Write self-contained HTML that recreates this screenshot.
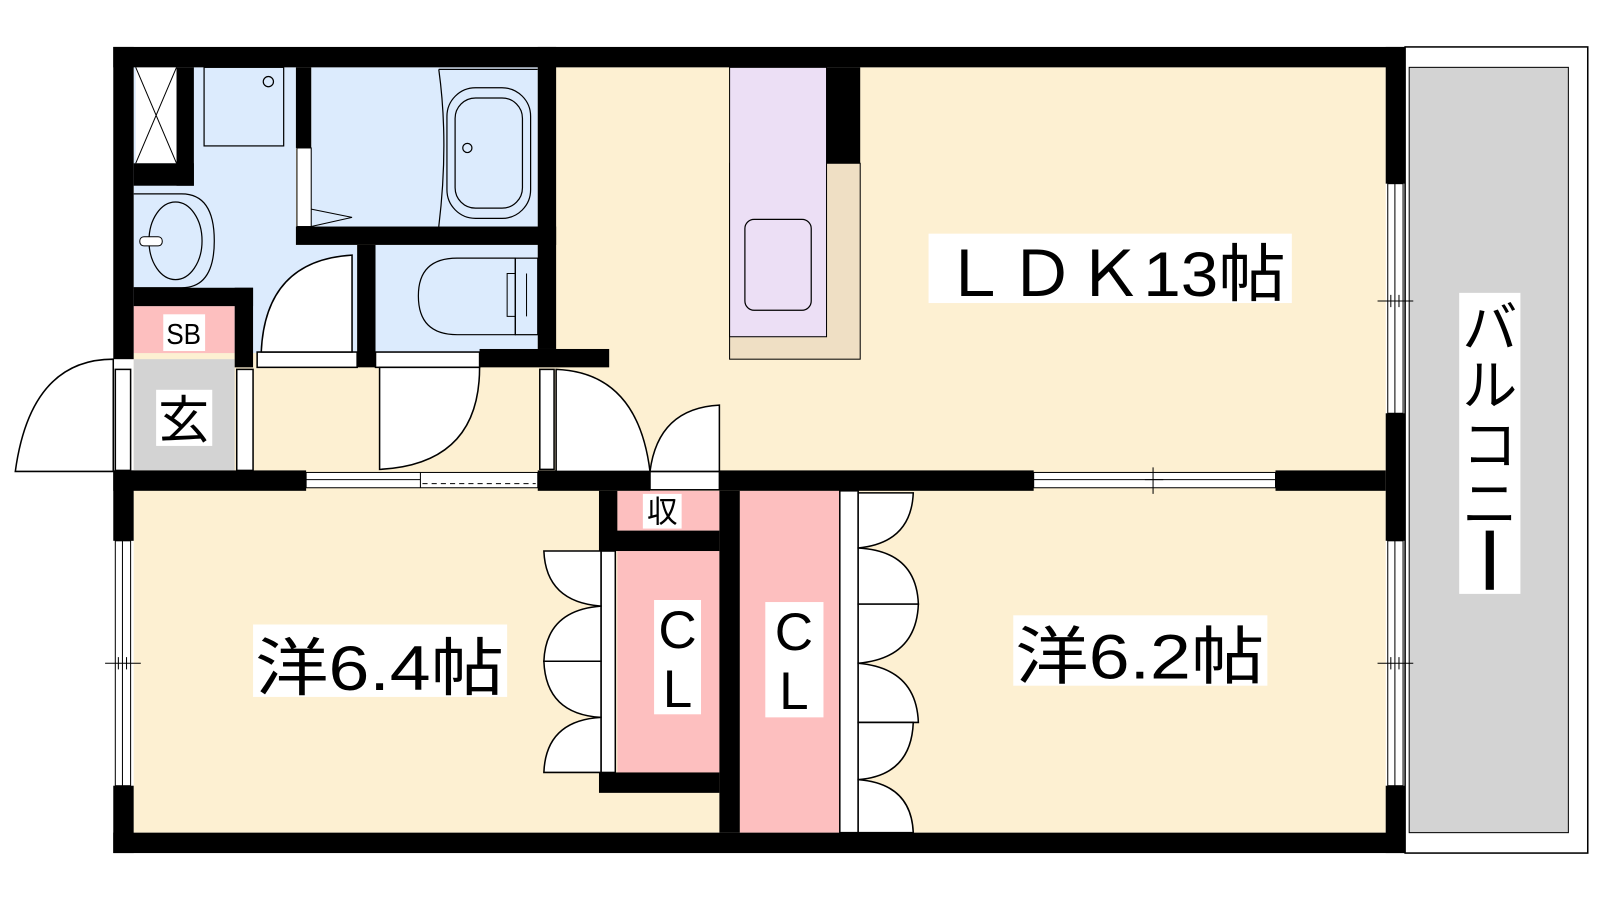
<!DOCTYPE html>
<html><head><meta charset="utf-8"><style>
html,body{margin:0;padding:0;background:#fff;}
svg{display:block}
text{font-family:"Liberation Sans","Noto Sans CJK JP",sans-serif;fill:#000}
</style></head><body>
<svg width="1600" height="900" viewBox="0 0 1568 882" preserveAspectRatio="none" xmlns="http://www.w3.org/2000/svg">
<!-- balcony -->
<rect x="1377" y="46" width="179" height="790" fill="#fff" stroke="#000" stroke-width="1.5"/>
<rect x="1381" y="66" width="156" height="750" fill="#d3d3d3" stroke="#000" stroke-width="1"/>
<!-- floors -->
<rect x="131" y="66" width="1227" height="750" fill="#fdf0d2"/>
<rect x="131" y="66" width="159" height="280" fill="#dcebfd"/>
<rect x="305" y="66" width="222" height="158" fill="#dcebfd"/>
<rect x="368" y="240" width="159" height="106" fill="#dcebfd"/>
<rect x="252" y="240" width="98" height="106" fill="#dcebfd"/>
<rect x="131" y="300" width="99" height="46" fill="#fdbfbf"/>
<rect x="131" y="352" width="99" height="109" fill="#d3d3d3"/>
<rect x="605" y="481" width="100" height="39" fill="#fdbfbf"/>
<rect x="605" y="540" width="100" height="217" fill="#fdbfbf"/>
<rect x="725" y="481" width="98" height="335" fill="#fdbfbf"/>
<!-- kitchen -->
<rect x="715" y="160" width="128" height="192" fill="#efdfc4" stroke="#000" stroke-width="1"/>
<rect x="715" y="66" width="95" height="264" fill="#ecdff5" stroke="#000" stroke-width="1"/>
<rect x="730" y="215" width="65" height="89" rx="9" fill="none" stroke="#000" stroke-width="1.2"/>
<rect x="810" y="66" width="33" height="94" fill="#000"/>
<!-- closet X -->
<rect x="133" y="66" width="40" height="94" fill="#fff"/>
<path d="M133 66 L173 160 M173 66 L133 160" stroke="#000" stroke-width="1"/>
<!-- washer -->
<rect x="200" y="66" width="78" height="77" fill="none" stroke="#000" stroke-width="1.2"/>
<circle cx="263" cy="80" r="5" fill="none" stroke="#000" stroke-width="1.2"/>
<!-- sink -->
<path d="M131 190 H178 Q210 190 210 236 Q210 282 178 282 H131" fill="none" stroke="#000" stroke-width="1.2"/>
<ellipse cx="172" cy="236" rx="26" ry="38" fill="none" stroke="#000" stroke-width="1.2"/>
<rect x="137" y="232" width="22" height="9" rx="4" fill="#fff" stroke="#000" stroke-width="1"/>
<!-- bathtub -->
<path d="M430 68 H527 M430 68 Q440 140 430 222" fill="none" stroke="#000" stroke-width="1.2"/>
<rect x="438" y="86" width="82" height="128" rx="28" fill="none" stroke="#000" stroke-width="1.2"/>
<rect x="446" y="96" width="66" height="108" rx="20" fill="none" stroke="#000" stroke-width="1.2"/>
<circle cx="458" cy="145" r="4.5" fill="none" stroke="#000" stroke-width="1.2"/>
<!-- bath door -->
<rect x="291" y="145" width="14" height="77" fill="#fff" stroke="#000" stroke-width="1"/>
<path d="M305 222 L345 213 L305 205" fill="none" stroke="#000" stroke-width="1"/>
<!-- toilet -->
<path d="M505 253 H448 Q410 253 410 290 Q410 328 448 328 H505 Z" fill="none" stroke="#000" stroke-width="1.2"/>
<rect x="505" y="253" width="22" height="75" fill="none" stroke="#000" stroke-width="1.2"/>
<path d="M505 268 H497 V310 H505 M516 268 V310" fill="none" stroke="#000" stroke-width="1"/>
<!-- walls -->
<g fill="#000">
<rect x="111" y="46" width="1266" height="20"/>
<rect x="111" y="816" width="1266" height="20"/>
<rect x="111" y="46" width="20" height="306"/>
<rect x="111" y="461" width="20" height="69"/>
<rect x="111" y="770" width="20" height="66"/>
<rect x="1358" y="46" width="19" height="134"/>
<rect x="1358" y="405" width="19" height="125"/>
<rect x="1358" y="770" width="19" height="66"/>
<rect x="173" y="66" width="17" height="116"/>
<rect x="131" y="160" width="59" height="22"/>
<rect x="290" y="66" width="15" height="79"/>
<rect x="290" y="222" width="255" height="18"/>
<rect x="527" y="46" width="18" height="296"/>
<rect x="350" y="240" width="18" height="120"/>
<rect x="470" y="342" width="127" height="18"/>
<rect x="131" y="282" width="117" height="18"/>
<rect x="230" y="282" width="18" height="78"/>
<rect x="111" y="461" width="189" height="20"/>
<rect x="527" y="461" width="110" height="20"/>
<rect x="705" y="461" width="308" height="20"/>
<rect x="1250" y="461" width="108" height="20"/>
<rect x="587" y="481" width="18" height="59"/>
<rect x="587" y="520" width="118" height="20"/>
<rect x="587" y="757" width="118" height="20"/>
<rect x="705" y="481" width="20" height="335"/>
</g>
<!-- windows -->
<g fill="#fff" stroke="#000" stroke-width="1">
<rect x="1360" y="180" width="15" height="225"/>
<rect x="1360" y="530" width="15" height="240"/>
<rect x="113" y="530" width="15" height="240"/>
<rect x="1013" y="463" width="237" height="15"/>
<rect x="300" y="463" width="227" height="15"/>
</g>
<path d="M1367 180 V405 M1367 530 V770 M120 530 V770 M1013 470 H1250 M300 470 H412 M412 463 V478" stroke="#000" stroke-width="1" fill="none"/>
<path d="M414 474 H525" stroke="#000" stroke-width="1" stroke-dasharray="5 4"/>
<path d="M1350 295 H1385 M1363 289 V301 M1371 289 V301 M1350 650 H1385 M1363 644 V656 M1371 644 V656 M103 650 H138 M116 644 V656 M124 644 V656 M1130 458 V484 M1122 470 H1140" stroke="#000" stroke-width="1"/>
<!-- doors -->
<g fill="#fff" stroke="#000" stroke-width="1.5">
<rect x="113" y="362" width="15" height="99"/>
<path d="M111 352 Q30 352 15 462 H111 Z"/>
<rect x="232" y="362" width="16" height="99"/>
<rect x="252" y="345" width="98" height="15"/>
<path d="M345 250 Q260 255 256 345 H345 Z"/>
<rect x="368" y="345" width="102" height="15"/>
<path d="M470 360 Q470 455 372 460 V360 Z"/>
<rect x="529" y="362" width="14" height="98"/>
<path d="M545 362 Q625 365 637 462 H545 Z"/>
<rect x="637" y="462" width="68" height="18"/>
<path d="M705 397 Q645 400 637 462 H705 Z"/>
<rect x="589" y="540" width="14" height="217"/>
<path d="M589 540 H533 Q535 590 589 594 Z"/>
<path d="M589 594 Q535 598 533 648 H589 Z"/>
<path d="M589 648 H533 Q535 700 589 703 Z"/>
<path d="M589 703 Q535 706 533 757 H589 Z"/>
<rect x="823" y="481" width="18" height="335"/>
<path d="M841 483 H895 Q893 532 841 537 Z"/>
<path d="M841 537 Q898 540 900 592 H841 Z"/>
<path d="M841 592 H900 Q898 645 841 650 Z"/>
<path d="M841 650 Q898 655 900 708 H841 Z"/>
<path d="M841 708 H895 Q893 760 841 764 Z"/>
<path d="M841 764 Q893 768 895 816 H841 Z"/>
</g>
<!-- labels -->
<g fill="#fff">
<rect x="160" y="308" width="41" height="36"/>
<rect x="153" y="382" width="55" height="55"/>
<rect x="630" y="484" width="38" height="34"/>
<rect x="641" y="588" width="46" height="112"/>
<rect x="750" y="590" width="57" height="113"/>
<rect x="910" y="229" width="356" height="68"/>
<rect x="248" y="612" width="249" height="71"/>
<rect x="993" y="603" width="249" height="69"/>
<rect x="1430" y="287" width="60" height="295"/>
</g>
<text x="180" y="337" font-size="28" text-anchor="middle" textLength="34" lengthAdjust="spacingAndGlyphs">SB</text>
<text x="180" y="429" font-size="50" text-anchor="middle">玄</text>
<text x="649" y="512" font-size="30" text-anchor="middle">収</text>
<text x="664" y="635" font-size="52" text-anchor="middle">C</text>
<text x="664" y="693" font-size="52" text-anchor="middle">L</text>
<text x="778" y="637" font-size="52" text-anchor="middle">C</text>
<text x="778" y="695" font-size="52" text-anchor="middle">L</text>
<text x="922" y="290" font-size="62" textLength="338" lengthAdjust="spacingAndGlyphs">ＬＤＫ13帖</text>
<text x="250" y="676" font-size="62" textLength="244" lengthAdjust="spacingAndGlyphs">洋6.4帖</text>
<text x="995" y="665" font-size="62" textLength="244" lengthAdjust="spacingAndGlyphs">洋6.2帖</text>
<text x="1460" y="340" font-size="54" text-anchor="middle">バ</text>
<text x="1460" y="397" font-size="54" text-anchor="middle">ル</text>
<text x="1460" y="455" font-size="54" text-anchor="middle">コ</text>
<text x="1460" y="513" font-size="54" text-anchor="middle">ニ</text>
<rect x="1456" y="520" width="8" height="58" fill="#000"/>
</svg>
</body></html>
